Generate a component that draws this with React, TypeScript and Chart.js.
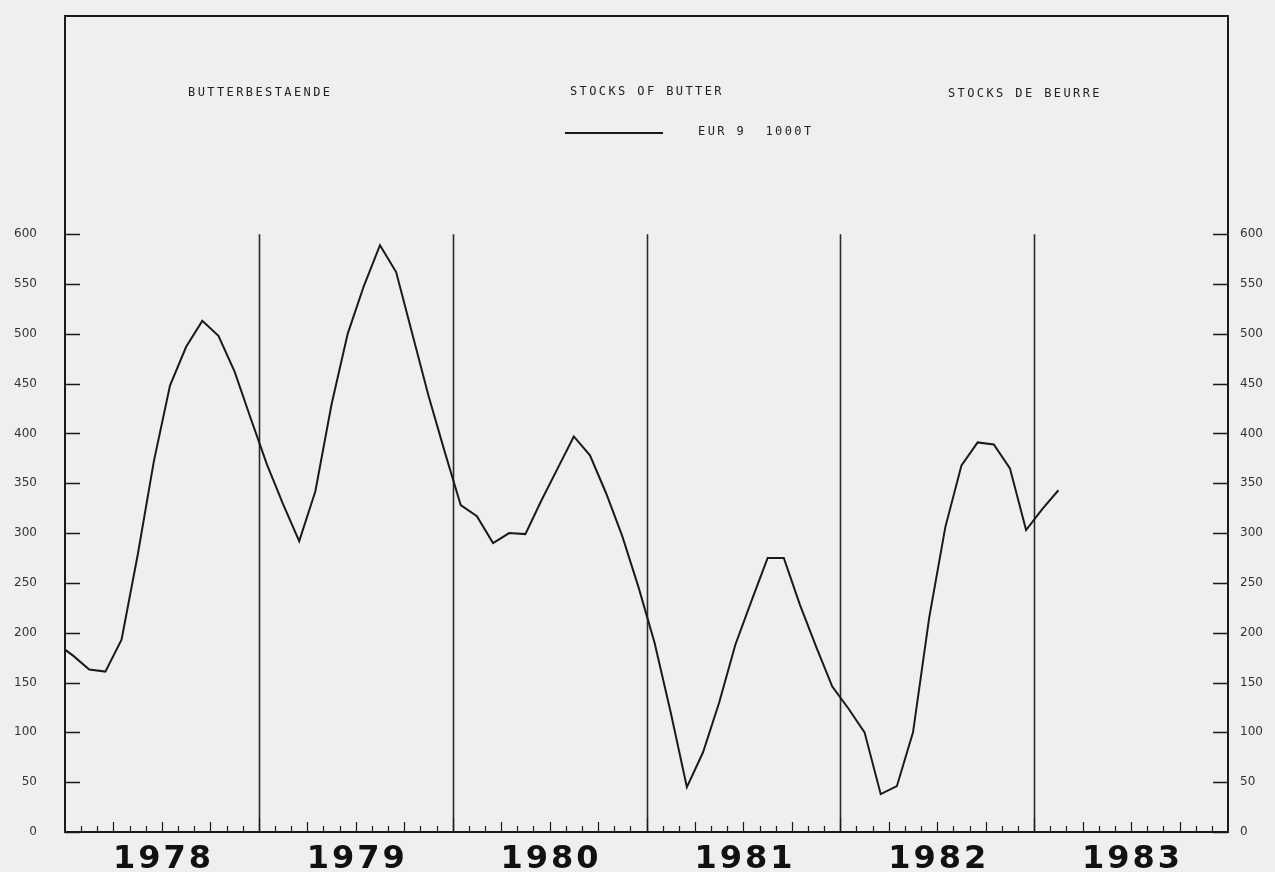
import React, { useEffect, useRef } from 'react';
import { Chart, registerables } from 'chart.js';

Chart.register(...registerables);

// ---- data (thousand tonnes, EUR 9, monthly) ----
const years = ['1978', '1979', '1980', '1981', '1982', '1983'];
const startValue = 183;
const values1978 = [177, 163, 161, 193, 278, 372, 448, 487, 513, 498, 462, 415];
const values1979 = [369, 329, 292, 342, 429, 500, 548, 589, 562, 500, 438, 382];
const values1980 = [328, 317, 290, 300, 299, 333, 365, 397, 378, 340, 297, 246];
const values1981 = [190, 120, 45, 80, 130, 188, 232, 275, 275, 228, 186, 146];
const values1982 = [124, 100, 38, 46, 100, 215, 306, 368, 391, 389, 365, 303];
const values1983 = [324, 343];
const yTickValues = [0, 50, 100, 150, 200, 250, 300, 350, 400, 450, 500, 550, 600];

const titleDe = 'BUTTERBESTAENDE';
const titleEn = 'STOCKS OF BUTTER';
const titleFr = 'STOCKS DE BEURRE';
const legendLabel = 'EUR 9  1000T';

const W = 1275;
const H = 872;
const INK = '#1a1a1a';

function buildData() {
  const monthly = [
    ...values1978,
    ...values1979,
    ...values1980,
    ...values1981,
    ...values1982,
    ...values1983,
  ];
  return [{ x: 0, y: startValue }, ...monthly.map((v, i) => ({ x: i + 0.5, y: v }))];
}

const decorPlugin = {
  id: 'decor',
  beforeDraw(chart: any) {
    const ctx = chart.ctx;
    ctx.save();
    ctx.fillStyle = '#efefef';
    ctx.fillRect(0, 0, chart.width, chart.height);
    ctx.restore();
  },
  beforeDatasetsDraw(chart: any) {
    const { ctx, scales } = chart;
    const x = scales.x;
    const y = scales.y;
    ctx.save();
    ctx.strokeStyle = '#2a2a2a';
    ctx.lineWidth = 1.6;
    for (let k = 1; k < years.length; k++) {
      const px = Math.round(x.getPixelForValue(k * 12)) + 0.5;
      ctx.beginPath();
      ctx.moveTo(px, y.getPixelForValue(600));
      ctx.lineTo(px, y.getPixelForValue(0));
      ctx.stroke();
    }
    ctx.restore();
  },
  afterDraw(chart: any) {
    const { ctx, chartArea, scales } = chart;
    const x = scales.x;
    const y = scales.y;
    const { left, right, top, bottom } = chartArea;
    ctx.save();
    // frame
    ctx.strokeStyle = INK;
    ctx.lineWidth = 2;
    ctx.strokeRect(left, top, right - left, bottom - top);

    // y ticks pointing inwards on both sides
    ctx.lineWidth = 1.6;
    yTickValues.forEach((v) => {
      const py = Math.round(y.getPixelForValue(v)) + 0.5;
      ctx.beginPath();
      ctx.moveTo(left, py);
      ctx.lineTo(left + 15, py);
      ctx.moveTo(right, py);
      ctx.lineTo(right - 15, py);
      ctx.stroke();
    });

    // monthly ticks on the time axis
    ctx.lineWidth = 1.2;
    for (let m = 1; m < years.length * 12; m++) {
      const px = Math.round(x.getPixelForValue(m)) + 0.5;
      const len = m % 12 === 0 ? 14 : m % 3 === 0 ? 10 : 6;
      ctx.beginPath();
      ctx.moveTo(px, bottom);
      ctx.lineTo(px, bottom - len);
      ctx.stroke();
    }

    // year labels
    ctx.fillStyle = '#111';
    ctx.font = 'bold 32px "DejaVu Sans"';
    (ctx as any).letterSpacing = '3px';
    ctx.textAlign = 'center';
    ctx.textBaseline = 'alphabetic';
    years.forEach((yr, k) => {
      const px = x.getPixelForValue(k * 12 + 6);
      ctx.fillText(yr, px + 1.5, bottom + 36);
    });

    // titles inside the frame
    const w = right - left;
    ctx.font = '12px "DejaVu Sans Mono"';
    (ctx as any).letterSpacing = '2.4px';
    ctx.textAlign = 'left';
    ctx.textBaseline = 'middle';
    ctx.fillStyle = '#222';
    ctx.fillText(titleDe, left + w * 0.1058, top + 77);
    ctx.fillText(titleEn, left + w * 0.4342, top + 76);
    ctx.fillText(titleFr, left + w * 0.7592, top + 78);
    ctx.fillText(legendLabel, left + w * 0.5443, top + 116);

    // legend line
    ctx.strokeStyle = INK;
    ctx.lineWidth = 2;
    ctx.beginPath();
    ctx.moveTo(left + w * 0.4299, top + 117);
    ctx.lineTo(left + w * 0.5142, top + 117);
    ctx.stroke();
    ctx.restore();
  },
};

export default function App() {
  const ref = useRef<HTMLCanvasElement | null>(null);

  useEffect(() => {
    if (!ref.current) return;
    const setTicks = (scale: any) => {
      scale.ticks = yTickValues.map((v) => ({ value: v }));
    };
    const tickFont = { family: '"DejaVu Sans"', size: 12 };
    const chart = new Chart(ref.current, {
      type: 'line',
      data: {
        datasets: [
          {
            label: legendLabel,
            data: buildData(),
            borderColor: INK,
            borderWidth: 2,
            pointRadius: 0,
            tension: 0,
            fill: false,
          },
        ],
      },
      options: {
        responsive: false,
        animation: false,
        devicePixelRatio: 1,
        layout: { padding: { top: 16, left: 0, right: 0, bottom: 0 } },
        plugins: {
          legend: { display: false },
          tooltip: { enabled: false },
          title: { display: false },
        },
        scales: {
          x: {
            type: 'linear',
            min: 0,
            max: years.length * 12,
            grid: { display: false },
            border: { display: false },
            ticks: { display: false },
            afterFit: (s: any) => {
              s.height = 40;
              s.paddingLeft = 0;
              s.paddingRight = 0;
            },
          },
          y: {
            type: 'linear',
            position: 'left',
            min: 0,
            max: 819,
            grid: { display: false },
            border: { display: false },
            afterBuildTicks: setTicks,
            ticks: { color: '#333', font: tickFont, padding: 20 },
            afterFit: (s: any) => {
              s.width = 65;
              s.paddingTop = 0;
              s.paddingBottom = 0;
            },
          },
          y2: {
            type: 'linear',
            position: 'right',
            min: 0,
            max: 819,
            grid: { display: false },
            border: { display: false },
            afterBuildTicks: setTicks,
            ticks: { color: '#333', font: tickFont, padding: 4 },
            afterFit: (s: any) => {
              s.width = 47;
              s.paddingTop = 0;
              s.paddingBottom = 0;
            },
          },
        },
      },
      plugins: [decorPlugin],
    });
    return () => chart.destroy();
  }, []);

  return (
    <div style={{ position: 'fixed', left: 0, top: 0, width: W, height: H, background: '#efefef' }}>
      <canvas ref={ref} width={W} height={H} style={{ width: W, height: H, display: 'block' }} />
    </div>
  );
}
